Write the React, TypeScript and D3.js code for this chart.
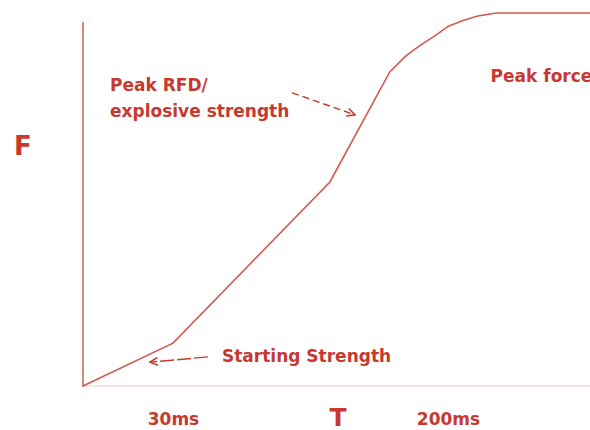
import * as d3 from 'd3';
import { useEffect, useRef } from 'react';

// schematic force-time curve (time in ms, force in % of peak)
const timeMs = [0, 30, 127, 164, 174, 183, 193, 200, 210, 221, 234, 300];
const force = [0, 11.5, 54.7, 84.2, 88.5, 91.4, 94.2, 96.4, 97.9, 99.2, 100, 100];

const tickValues = [30, 200];
const tickLabel = (d: number) => `${d}ms`;

const annotations = [
    { label: ['Peak RFD/', 'explosive strength'], tx: 9, ty: 79, from: [103.6, 78.6], to: [142.5, 72.7], dash: '7,4' },
    { label: ['Starting Strength'], tx: 60.3, ty: 6.5, from: [51.6, 7.8], to: [22.3, 6.4], dash: '14,3' },
    { label: ['Peak force'], tx: 230, ty: 81.5, from: null, to: null, dash: '' },
];

const RED = '#c6392f';
const FONT = '"DejaVu Sans", Verdana, sans-serif';

export default function App() {
    const ref = useRef<SVGSVGElement | null>(null);

    useEffect(() => {
        const svg = d3.select(ref.current);
        svg.selectAll('*').remove();

        const width = 590;
        const height = 430;

        const x = d3.scaleLinear().domain([0, 30, 200, 300]).range([83, 173, 448, 590]);
        const y = d3.scaleLinear().domain([0, 100]).range([386, 13]);

        svg.attr('width', width).attr('height', height);

        const defs = svg.append('defs');
        defs.append('marker')
            .attr('id', 'arr')
            .attr('viewBox', '0 0 10 10')
            .attr('refX', 9).attr('refY', 5)
            .attr('markerWidth', 7).attr('markerHeight', 7)
            .attr('orient', 'auto')
            .append('path')
            .attr('d', 'M1,1 L9,5 L1,9')
            .attr('fill', 'none')
            .attr('stroke', RED)
            .attr('stroke-width', 1.6);

        // x axis (faint)
        svg.append('line')
            .attr('x1', x(0)).attr('x2', width)
            .attr('y1', y(0)).attr('y2', y(0))
            .attr('stroke', '#f2dcd8').attr('stroke-width', 1.5);

        // y axis
        svg.append('line')
            .attr('x1', x(0)).attr('x2', x(0))
            .attr('y1', 22).attr('y2', y(0) + 1)
            .attr('stroke', '#d58a80').attr('stroke-width', 2);

        const xAxis = svg.append('g')
            .attr('transform', `translate(0,${y(0)})`)
            .call(d3.axisBottom(x).tickValues(tickValues).tickSize(0).tickPadding(27).tickFormat(d => tickLabel(+d)));
        xAxis.select('.domain').remove();
        xAxis.selectAll('text')
            .attr('fill', RED)
            .style('font-family', FONT)
            .style('font-weight', 'bold')
            .style('font-size', '17px');

        const line = d3.line<number>()
            .x((_, i) => x(timeMs[i]))
            .y(d => y(d));

        svg.append('path')
            .datum(force)
            .attr('d', line)
            .attr('fill', 'none')
            .attr('stroke', '#d2594f')
            .attr('stroke-width', 1.6);

        // axis titles
        svg.append('text')
            .attr('x', 14).attr('y', 155)
            .text('F')
            .attr('fill', RED)
            .style('font-family', FONT)
            .style('font-weight', 'bold')
            .style('font-size', '26px');
        svg.append('text')
            .attr('x', 338).attr('y', 426)
            .attr('text-anchor', 'middle')
            .text('T')
            .attr('fill', RED)
            .style('font-family', FONT)
            .style('font-weight', 'bold')
            .style('font-size', '25px');

        annotations.forEach(a => {
            const t = svg.append('text')
                .attr('x', x(a.tx)).attr('y', y(a.ty))
                .attr('fill', RED)
                .style('font-family', FONT)
                .style('font-weight', 'bold')
                .style('font-size', '17px');
            a.label.forEach((s, i) => {
                t.append('tspan').attr('x', x(a.tx)).attr('dy', i === 0 ? 0 : 26).text(s);
            });
            if (a.from && a.to) {
                svg.append('line')
                    .attr('x1', x(a.from[0])).attr('y1', y(a.from[1]))
                    .attr('x2', x(a.to[0])).attr('y2', y(a.to[1]))
                    .attr('stroke', RED)
                    .attr('stroke-width', 1.4)
                    .attr('stroke-dasharray', a.dash)
                    .attr('marker-end', 'url(#arr)');
            }
        });
    }, []);

    return <svg ref={ref} style={{ position: 'absolute', left: 0, top: 0, background: '#fff' }}></svg>;
}
